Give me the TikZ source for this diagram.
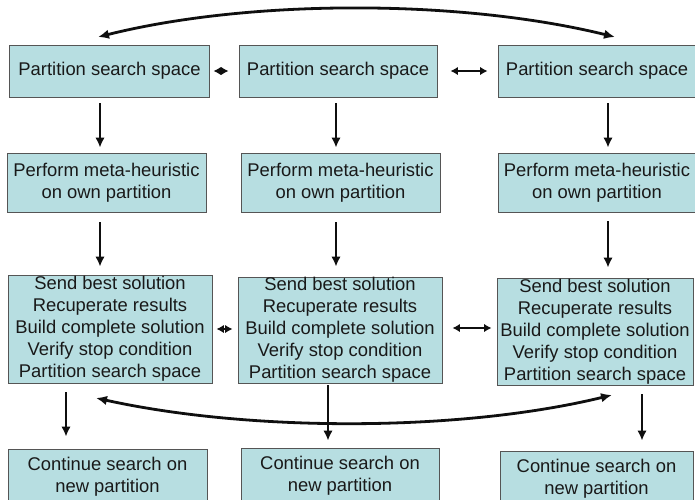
\documentclass[tikz,border=0pt]{standalone}
\usepackage{fontspec}
\setmainfont{Liberation Sans}
\usetikzlibrary{arrows.meta}
\definecolor{boxfill}{RGB}{183,222,225}
\definecolor{boxline}{RGB}{85,85,85}
\definecolor{txt}{RGB}{25,25,25}
\definecolor{arrc}{RGB}{15,15,15}
\tikzset{
  box/.style={draw=boxline, line width=0.9pt, fill=boxfill, inner sep=0pt, align=center,
    font=\fontsize{18.4}{22}\selectfont, text=txt},
  arr/.style={draw=arrc, line width=2.8pt, -{Latex[length=10pt,width=9.5pt]}},
  darr/.style={draw=arrc, line width=2.8pt, {Latex[length=7.5pt,width=8.5pt]}-{Latex[length=7.5pt,width=8.5pt]}},
  carr/.style={draw=arrc, line width=2.8pt, {Latex[length=11pt,width=9.5pt]}-{Latex[length=11pt,width=9.5pt]}},
}
\begin{document}
\begin{tikzpicture}[x=1pt,y=-1pt]
\useasboundingbox (0,0) rectangle (695,499);
\fill[white] (0,0) rectangle (695,499);
\clip (0,0) rectangle (695,499);

% row 1
\node[box, minimum width=200pt, minimum height=52pt] (a1) at (109.5,71) {Partition search space};
\node[box, minimum width=198pt, minimum height=52pt] (b1) at (338,71) {Partition search space};
\node[box, minimum width=198pt, minimum height=52pt] (c1) at (597,71) {Partition search space};
% row 2
\node[box, minimum width=199pt, minimum height=59pt] (a2) at (106.5,182.5) {Perform meta-heuristic\\on own partition};
\node[box, minimum width=199pt, minimum height=59pt] (b2) at (340.5,182.5) {Perform meta-heuristic\\on own partition};
\node[box, minimum width=198pt, minimum height=59pt] (c2) at (597,182.5) {Perform meta-heuristic\\on own partition};
% row 3
\node[box, minimum width=204pt, minimum height=108pt] (a3) at (110,329) {Send best solution\\Recuperate results\\Build complete solution\\Verify stop condition\\Partition search space};
\node[box, minimum width=204pt, minimum height=106pt] (b3) at (340,330) {Send best solution\\Recuperate results\\Build complete solution\\Verify stop condition\\Partition search space};
\node[box, minimum width=196pt, minimum height=107pt] (c3) at (595,331.5) {Send best solution\\Recuperate results\\Build complete solution\\Verify stop condition\\Partition search space};
% row 4
\node[box, minimum width=199pt, minimum height=55pt] (a4) at (107.5,476.5) {Continue search on\\new partition};
\node[box, minimum width=198pt, minimum height=55pt] (b4) at (340,475.5) {Continue search on\\new partition};
\node[box, minimum width=193pt, minimum height=55pt] (c4) at (596.5,478.5) {Continue search on\\new partition};

% x positions of vertical arrows
\coordinate (xA) at (100,0);
\coordinate (xB) at (336,0);
\coordinate (xC) at (608,0);
\coordinate (xA3) at (66,0);
\coordinate (xB3) at (328,0);
\coordinate (xC3) at (642,0);

% row 1 -> row 2
\draw[arr, shorten <=6pt, shorten >=5pt] (a1.south -| xA) -- (a2.north -| xA);
\draw[arr, shorten <=6pt, shorten >=5pt] (b1.south -| xB) -- (b2.north -| xB);
\draw[arr, shorten <=6pt, shorten >=5pt] (c1.south -| xC) -- (c2.north -| xC);
% row 2 -> row 3
\draw[arr, shorten <=10pt, shorten >=8pt] (a2.south -| xA) -- (a3.north -| xA);
\draw[arr, shorten <=10pt, shorten >=10pt] (b2.south -| xB) -- (b3.north -| xB);
\draw[arr, shorten <=9pt, shorten >=10pt] (c2.south -| xC) -- (c3.north -| xC);
% row 3 -> row 4
\draw[arr, shorten <=9pt, shorten >=12pt] (a3.south -| xA3) -- (a4.north -| xA3);
\draw[arr, shorten <=2pt, shorten >=7pt] (b3.south -| xB3) -- (b4.north -| xB3);
\draw[arr, shorten <=9pt, shorten >=10pt] (c3.south -| xC3) -- (c4.north -| xC3);

% horizontal double arrows
\draw[darr, shorten <=3.5pt, shorten >=10pt] (a1.east) -- (b1.west);
\draw[darr, shorten <=13pt, shorten >=10pt] (b1.east) -- (c1.west);
\draw[darr, shorten <=4pt, shorten >=5pt] (a3.east) -- (a3.east -| b3.west);
\coordinate (r3) at (0,328);
\draw[darr, shorten <=10pt, shorten >=5pt] (b3.east |- r3) -- (c3.west |- r3);

% curved arrows
\coordinate (tl) at (98,37);
\coordinate (tr) at (615,37);
\draw[carr] (tl) .. controls (250,-1) and (460,-1) .. (tr);
\coordinate (bl) at (96,398);
\coordinate (br) at (612,395);
\draw[carr] (bl) .. controls (250,432) and (460,432) .. (br);
\end{tikzpicture}
\end{document}
